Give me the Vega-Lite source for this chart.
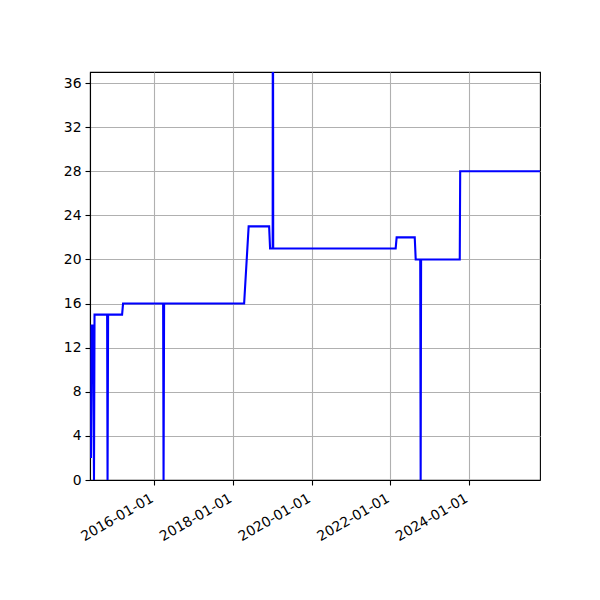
{
  "$schema": "https://vega.github.io/schema/vega-lite/v6.json",
  "width": 450,
  "height": 408,
  "autosize": {"type": "none"},
  "padding": {"left": 90, "top": 72, "right": 60, "bottom": 120},
  "background": "white",
  "view": {"stroke": "black", "strokeWidth": 1.1},
  "config": {
    "font": "DejaVu Sans",
    "axis": {
      "labelFont": "DejaVu Sans",
      "labelFontSize": 13.9,
      "labelColor": "black",
      "domainColor": "black",
      "domainWidth": 1.1,
      "tickColor": "black",
      "tickWidth": 1.1,
      "tickSize": 5,
      "labelPadding": 4,
      "gridColor": "#b0b0b0",
      "gridWidth": 1.1,
      "title": null
    }
  },
  "data": {
    "values": [
      {"date": "2014-05-23", "value": 2},
      {"date": "2014-05-28", "value": 14},
      {"date": "2014-06-11", "value": 14},
      {"date": "2014-06-20", "value": 0},
      {"date": "2014-06-25", "value": 15},
      {"date": "2014-10-20", "value": 15},
      {"date": "2014-10-24", "value": 0},
      {"date": "2014-10-29", "value": 15},
      {"date": "2015-03-08", "value": 15},
      {"date": "2015-03-17", "value": 16},
      {"date": "2016-03-23", "value": 16},
      {"date": "2016-03-27", "value": 0},
      {"date": "2016-04-01", "value": 16},
      {"date": "2018-04-14", "value": 16},
      {"date": "2018-05-26", "value": 23},
      {"date": "2018-12-02", "value": 23},
      {"date": "2018-12-11", "value": 21},
      {"date": "2019-01-04", "value": 21},
      {"date": "2019-01-06", "value": 60},
      {"date": "2019-01-09", "value": 21},
      {"date": "2022-02-19", "value": 21},
      {"date": "2022-02-28", "value": 22},
      {"date": "2022-08-15", "value": 22},
      {"date": "2022-08-24", "value": 20},
      {"date": "2022-10-05", "value": 20},
      {"date": "2022-10-09", "value": 0},
      {"date": "2022-10-13", "value": 20},
      {"date": "2023-10-07", "value": 20},
      {"date": "2023-10-11", "value": 28},
      {"date": "2025-10-25", "value": 28}
    ]
  },
  "mark": {"type": "line", "color": "#0000ff", "strokeWidth": 2.1, "clip": true},
  "encoding": {
    "x": {
      "field": "date",
      "type": "temporal",
      "scale": {
        "type": "utc",
        "domain": [
          {"year": 2014, "month": 5, "date": 14, "utc": true},
          {"year": 2025, "month": 10, "date": 21, "utc": true}
        ],
        "nice": false
      },
      "axis": {
        "format": "%Y-%m-%d",
        "values": [
          {"year": 2016, "month": 1, "date": 1, "utc": true},
          {"year": 2018, "month": 1, "date": 1, "utc": true},
          {"year": 2020, "month": 1, "date": 1, "utc": true},
          {"year": 2022, "month": 1, "date": 1, "utc": true},
          {"year": 2024, "month": 1, "date": 1, "utc": true}
        ],
        "labelAngle": -30,
        "labelAlign": "right",
        "labelBaseline": "top",
        "labelOffset": -6,
        "labelPadding": 6,
        "grid": true
      }
    },
    "y": {
      "field": "value",
      "type": "quantitative",
      "scale": {"domain": [0, 37], "nice": false, "zero": true},
      "axis": {
        "values": [0, 4, 8, 12, 16, 20, 24, 28, 32, 36],
        "grid": true
      }
    }
  }
}
